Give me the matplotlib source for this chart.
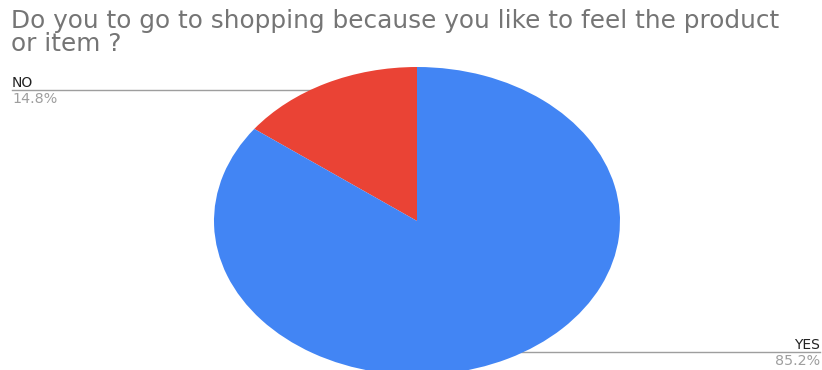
import numpy as np
import matplotlib
matplotlib.use("Agg")
import matplotlib.pyplot as plt

# Survey answers
labels = ["NO", "YES"]
shares = [14.8, 85.2]
colors = ["#ea4335", "#4285f4"]
title_lines = ["Do you to go to shopping because you like to feel the product",
               "or item ?"]

W, H = 822, 370
fig = plt.figure(figsize=(W / 100, H / 100), dpi=100)
fig.patch.set_facecolor("white")

# Overlay axes in pixel coordinates for title and callouts
ov = fig.add_axes([0, 0, 1, 1])
ov.set_xlim(0, W)
ov.set_ylim(H, 0)
ov.axis("off")

# Pie axes stretched to an ellipse
cx, cy, rx, ry = 417, 221, 203, 154
pie_ax = fig.add_axes([(cx - rx) / W, (H - cy - ry) / H, 2 * rx / W, 2 * ry / H])
pie_ax.pie(shares, colors=colors, startangle=90, counterclock=True,
           wedgeprops=dict(linewidth=0))
pie_ax.set_aspect("auto")
pie_ax.set_xlim(-1, 1)
pie_ax.set_ylim(-1, 1)
pie_ax.axis("off")

font = "DejaVu Sans"
for k, line in enumerate(title_lines):
    ov.text(11, 28 + 23 * k, line, fontsize=17.8, color="#757575", family=font,
            va="baseline", ha="left")

# Callout dots and leader lines
start = 90.0
line_col = "#9e9e9e"
for lab, val in zip(labels, shares):
    span = 360 * val / sum(shares)
    mid = np.deg2rad(start + span / 2)
    start += span
    px, py = 0.95 * np.cos(mid), 0.95 * np.sin(mid)
    dx, dy = ov.transData.inverted().transform(pie_ax.transData.transform((px, py)))
    ov.plot([dx], [dy], "o", ms=3.5, color=line_col, zorder=5)
    if dx < cx:
        x_end, ha = 12, "left"
    else:
        x_end, ha = 820, "right"
    ov.plot([dx, x_end], [dy, dy], color=line_col, lw=1.0, zorder=4)
    ov.text(x_end, dy - 3, lab, fontsize=10, color="#222222", family=font,
            ha=ha, va="baseline")
    ov.text(x_end, dy + 13, f"{val:.1f}%", fontsize=10.3, color="#9e9e9e",
            family=font, ha=ha, va="baseline")

fig.savefig("out.png", dpi=100, facecolor="white")
